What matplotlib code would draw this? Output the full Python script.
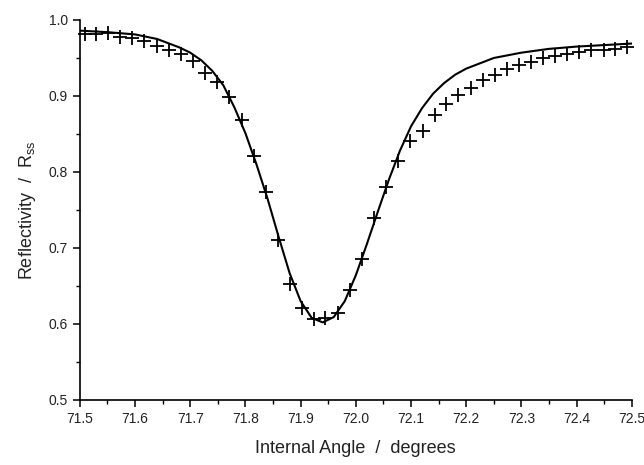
import numpy as np
import matplotlib
matplotlib.use("Agg")
import matplotlib.pyplot as plt
from matplotlib.ticker import MultipleLocator

plt.rcParams['font.family'] = ['Liberation Sans', 'DejaVu Sans']

# measured data (crosses)
angle_meas = [71.509, 71.530, 71.551, 71.573, 71.595, 71.617, 71.639, 71.661,
              71.683, 71.705, 71.727, 71.749, 71.771, 71.793, 71.815, 71.837,
              71.859, 71.881, 71.903, 71.924, 71.945, 71.967, 71.989, 72.011,
              72.033, 72.055, 72.077, 72.099, 72.121, 72.143, 72.164, 72.186,
              72.208, 72.230, 72.252, 72.274, 72.295, 72.317, 72.339, 72.361,
              72.383, 72.405, 72.427, 72.449, 72.470, 72.492]
refl_meas = [0.982, 0.982, 0.983, 0.978, 0.976, 0.972, 0.966, 0.961,
             0.955, 0.946, 0.930, 0.918, 0.899, 0.869, 0.821, 0.773,
             0.711, 0.652, 0.621, 0.607, 0.608, 0.614, 0.645, 0.686,
             0.740, 0.780, 0.815, 0.841, 0.854, 0.875, 0.890, 0.901,
             0.911, 0.921, 0.928, 0.935, 0.941, 0.945, 0.950, 0.953,
             0.955, 0.958, 0.960, 0.961, 0.962, 0.964]

# fitted curve (solid line)
angle_fit = [71.50, 71.55, 71.60, 71.64, 71.68, 71.70, 71.72, 71.74, 71.76,
             71.78, 71.80, 71.82, 71.84, 71.86, 71.88, 71.90, 71.92, 71.94,
             71.96, 71.98, 72.00, 72.02, 72.04, 72.06, 72.08, 72.10, 72.12,
             72.14, 72.16, 72.18, 72.20, 72.25, 72.30, 72.35, 72.40, 72.45,
             72.50]
refl_fit = [0.986, 0.984, 0.981, 0.975, 0.964, 0.957, 0.947, 0.933, 0.914,
            0.885, 0.851, 0.810, 0.765, 0.715, 0.667, 0.630, 0.608, 0.602,
            0.609, 0.630, 0.664, 0.705, 0.748, 0.790, 0.828, 0.860, 0.884,
            0.903, 0.917, 0.928, 0.936, 0.950, 0.957, 0.962, 0.965, 0.967,
            0.969]

fig = plt.figure(figsize=(6.44, 4.65), dpi=100)
ax = fig.add_axes([0.124, 0.140, 0.857, 0.817])

ax.plot(angle_fit, refl_fit, 'k-', lw=1.5)
ax.plot(angle_meas, refl_meas, 'k+', ms=10, mew=1.3, clip_on=False)

ax.set_xlim(71.5, 72.5)
ax.set_ylim(0.5, 1.0)
ax.xaxis.set_major_locator(MultipleLocator(0.1))
ax.xaxis.set_minor_locator(MultipleLocator(0.05))
ax.yaxis.set_major_locator(MultipleLocator(0.1))
ax.yaxis.set_minor_locator(MultipleLocator(0.05))
ax.xaxis.set_major_formatter(plt.FormatStrFormatter('%.1f'))
ax.yaxis.set_major_formatter(plt.FormatStrFormatter('%.1f'))

for s in ['top', 'right']:
    ax.spines[s].set_visible(False)
for s in ['left', 'bottom']:
    ax.spines[s].set_linewidth(1.2)

ax.tick_params(which='major', direction='out', length=5, width=1.1,
               labelsize=10, labelcolor='#222222')
ax.tick_params(which='minor', direction='out', length=3, width=1.0)

ax.set_xlabel('Internal Angle  /  degrees', fontsize=13, labelpad=10, color='#222222')
ax.set_ylabel('Reflectivity  /  R$_{\\mathregular{ss}}$', fontsize=13, labelpad=8, color='#222222')

fig.savefig('out.png', dpi=100)
